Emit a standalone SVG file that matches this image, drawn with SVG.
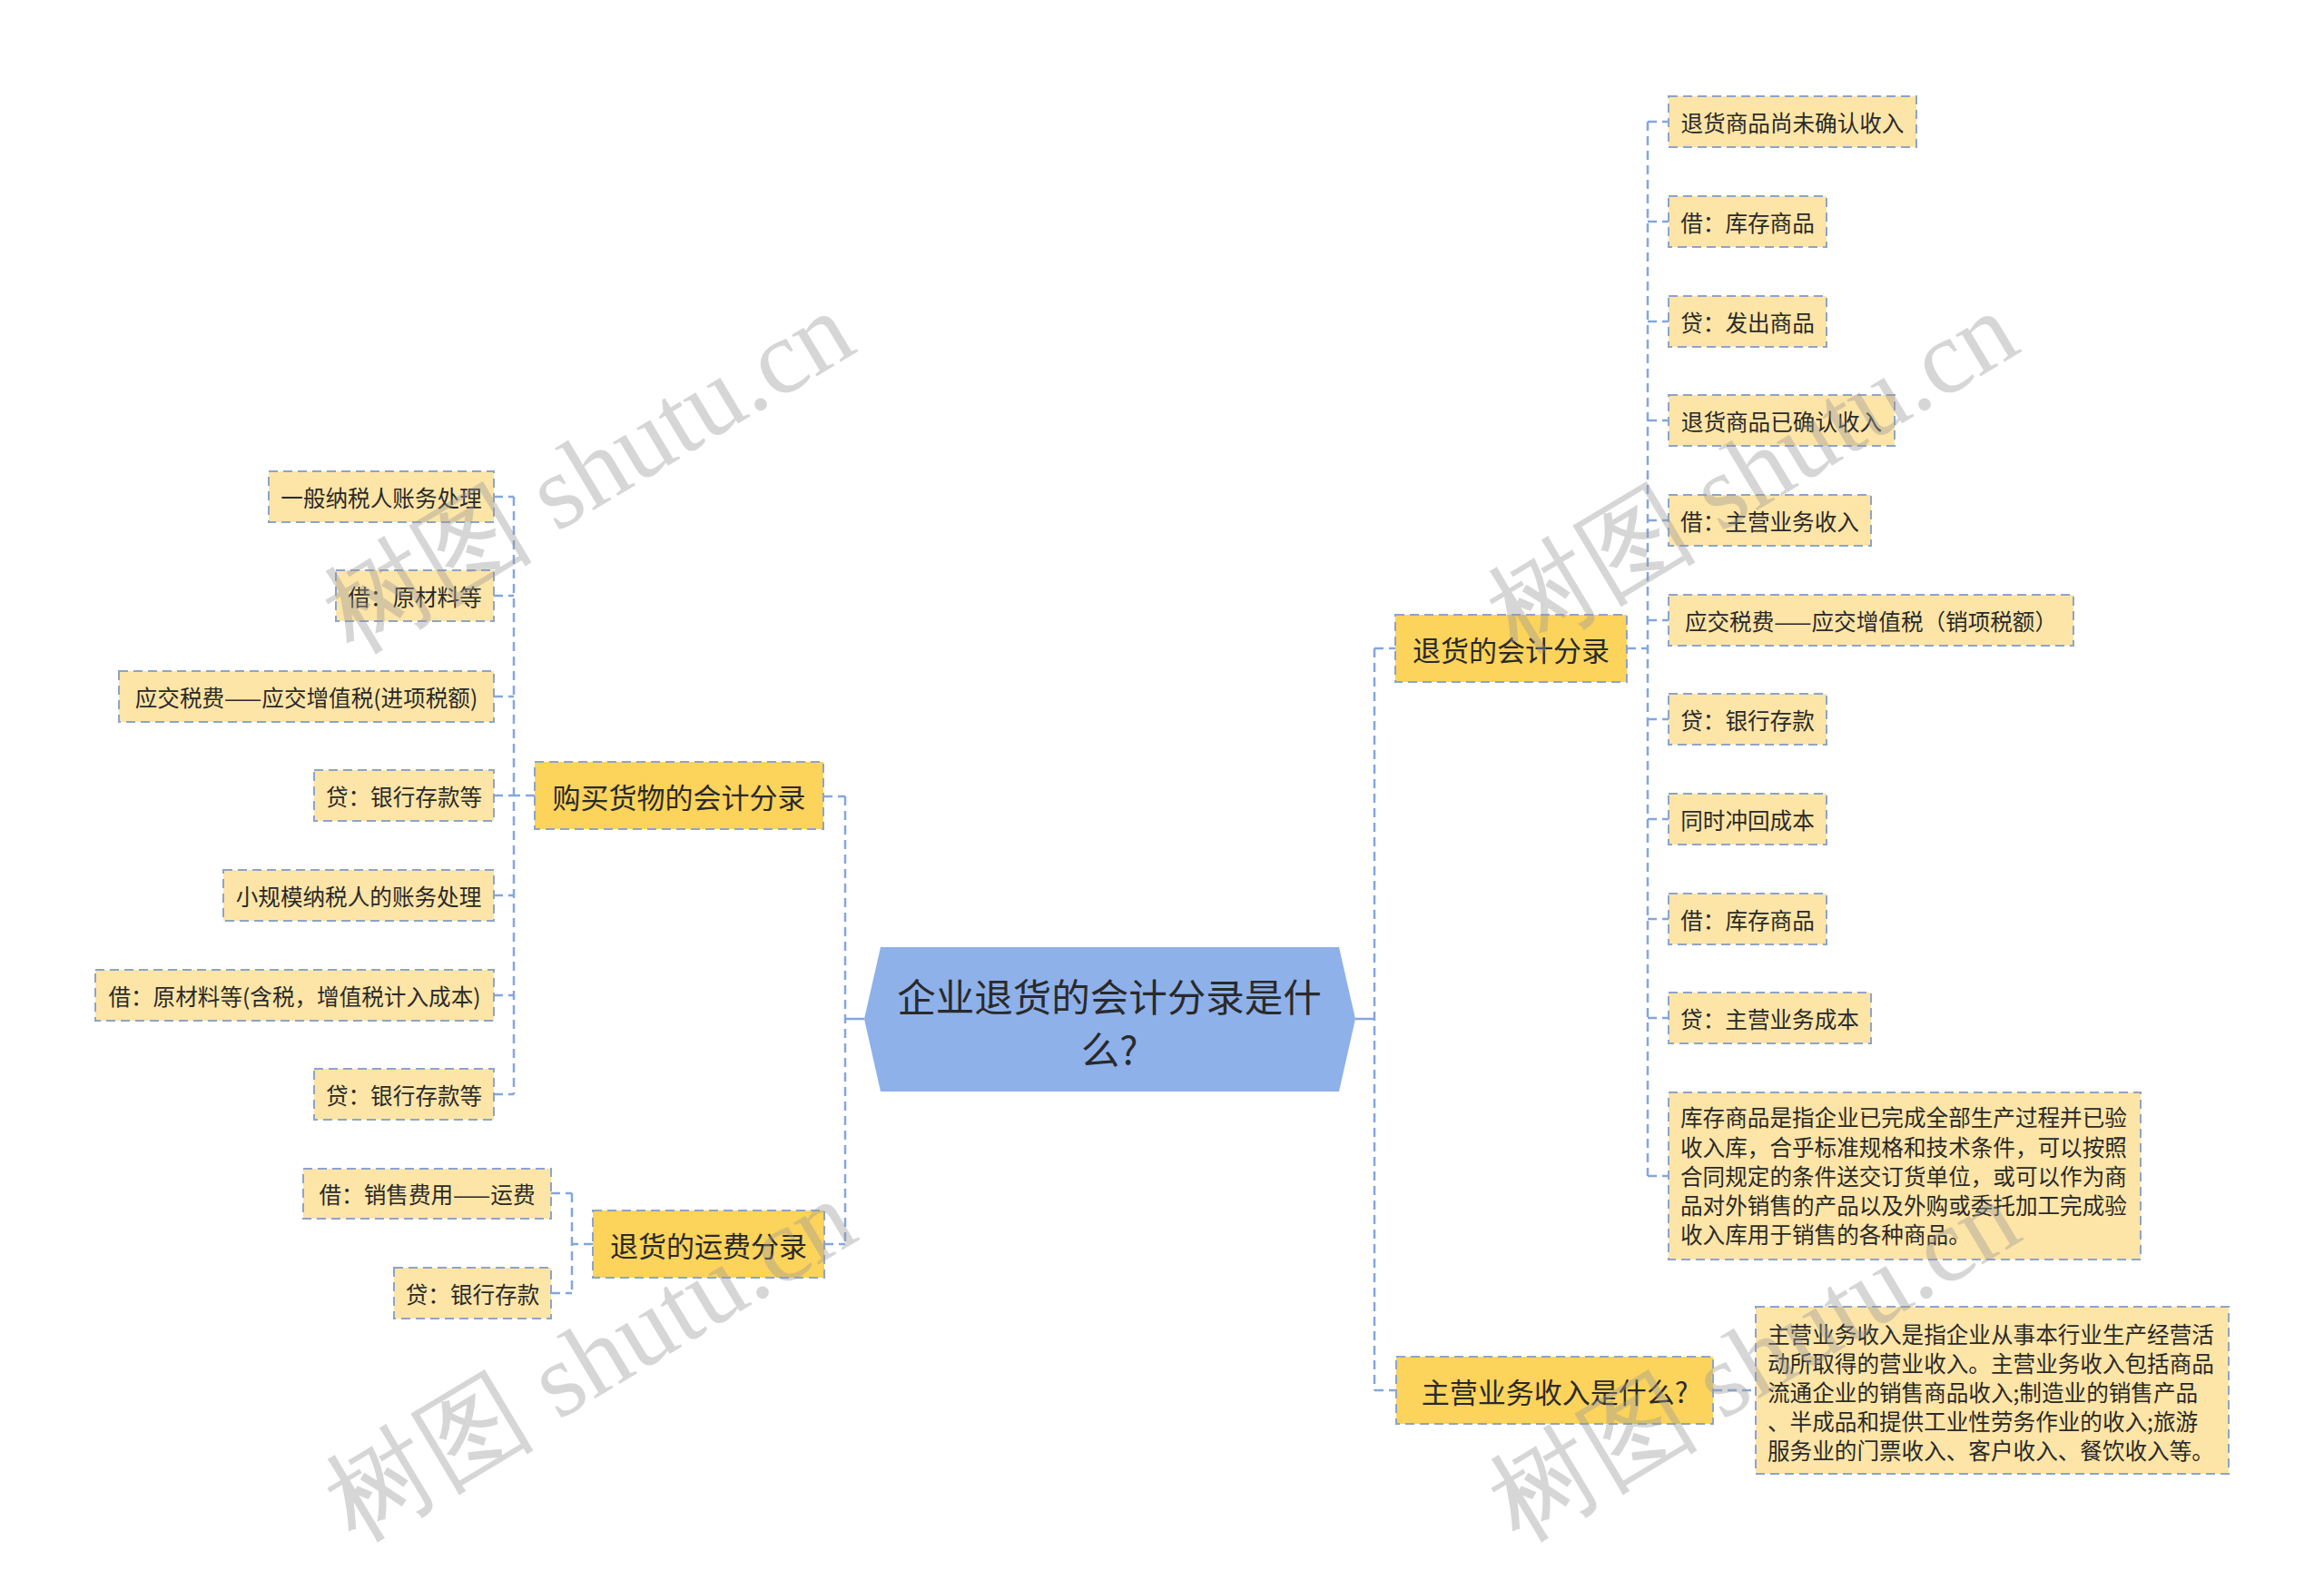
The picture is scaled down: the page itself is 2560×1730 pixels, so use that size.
<svg xmlns="http://www.w3.org/2000/svg" width="2560" height="1730" viewBox="0 0 2560 1730">
<style>
text{font-family:"Noto Sans CJK SC","Noto Sans",sans-serif;fill:#2a2a2a;text-anchor:middle;dominant-baseline:central}
.leaf{fill:#FDE5A7;stroke:#8DA4C8;stroke-width:2;stroke-dasharray:10 6}
.l1{fill:#FCD35B;stroke:#8DA4C8;stroke-width:2;stroke-dasharray:10 6}
.t24{font-size:24.6px}
.t30{font-size:31px}
.t40{font-size:42.5px}
.ml{font-size:24.6px;text-anchor:start}
.con line{stroke:#84A6DE;stroke-width:2.5;stroke-dasharray:10 6;fill:none}
.con line.solid{stroke-dasharray:none}
.wm{font-family:"Liberation Serif",serif;font-size:116px;fill:#9a9a9a;opacity:0.4;text-anchor:middle}
</style>
<rect width="2560" height="1730" fill="#ffffff"/>
<g id="connectors" class="con">
<line class="solid" x1="952" y1="1122" x2="931" y2="1122"/>
<line class="solid" x1="1493" y1="1122" x2="1514" y2="1122"/>
<line x1="931" y1="877" x2="931" y2="1370"/>
<line x1="907" y1="877" x2="931" y2="877"/>
<line x1="908" y1="1370" x2="931" y2="1370"/>
<line x1="566" y1="547" x2="566" y2="1205"/>
<line x1="589" y1="876" x2="566" y2="876"/>
<line x1="544" y1="547" x2="566" y2="547"/>
<line x1="544" y1="656" x2="566" y2="656"/>
<line x1="544" y1="767" x2="566" y2="767"/>
<line x1="544" y1="876" x2="566" y2="876"/>
<line x1="544" y1="986" x2="566" y2="986"/>
<line x1="544" y1="1096" x2="566" y2="1096"/>
<line x1="544" y1="1205" x2="566" y2="1205"/>
<line x1="630" y1="1314" x2="630" y2="1424"/>
<line x1="653" y1="1370" x2="630" y2="1370"/>
<line x1="607" y1="1314" x2="630" y2="1314"/>
<line x1="607" y1="1424" x2="630" y2="1424"/>
<line x1="1514" y1="714" x2="1514" y2="1531"/>
<line x1="1514" y1="714" x2="1537" y2="714"/>
<line x1="1514" y1="1531" x2="1538" y2="1531"/>
<line x1="1887" y1="1531" x2="1934" y2="1531"/>
<line x1="1815" y1="134" x2="1815" y2="1295"/>
<line x1="1792" y1="714" x2="1815" y2="714"/>
<line x1="1815" y1="134" x2="1838" y2="134"/>
<line x1="1815" y1="244" x2="1838" y2="244"/>
<line x1="1815" y1="354" x2="1838" y2="354"/>
<line x1="1815" y1="463" x2="1838" y2="463"/>
<line x1="1815" y1="573" x2="1838" y2="573"/>
<line x1="1815" y1="683" x2="1838" y2="683"/>
<line x1="1815" y1="792" x2="1838" y2="792"/>
<line x1="1815" y1="902" x2="1838" y2="902"/>
<line x1="1815" y1="1012" x2="1838" y2="1012"/>
<line x1="1815" y1="1121" x2="1838" y2="1121"/>
<line x1="1815" y1="1295" x2="1838" y2="1295"/>
</g>
<g id="root">
<polygon points="970,1043 1475,1043 1493,1122 1475,1202 970,1202 952,1122" fill="#8EB1EA"/>
<text class="t40" x="1222" y="1095">企业退货的会计分录是什</text>
<text class="t40" x="1222" y="1153">么?</text>
</g>
<g id="n-buy"><rect class="l1" x="589" y="839" width="318" height="74"/><text class="t30" x="748" y="876">购买货物的会计分录</text></g>
<g id="n-buy-1"><rect class="leaf" x="296" y="519" width="248" height="56"/><text class="t24" x="420" y="547">一般纳税人账务处理</text></g>
<g id="n-buy-2"><rect class="leaf" x="370" y="628" width="174" height="56"/><text class="t24" x="457" y="656">借：原材料等</text></g>
<g id="n-buy-3"><rect class="leaf" x="131" y="739" width="413" height="56"/><text class="t24" x="337.5" y="767">应交税费——应交增值税(进项税额)</text></g>
<g id="n-buy-4"><rect class="leaf" x="346" y="848" width="198" height="56"/><text class="t24" x="445" y="876">贷：银行存款等</text></g>
<g id="n-buy-5"><rect class="leaf" x="246" y="958" width="298" height="56"/><text class="t24" x="395" y="986">小规模纳税人的账务处理</text></g>
<g id="n-buy-6"><rect class="leaf" x="105" y="1068" width="439" height="56"/><text class="t24" x="324.5" y="1096">借：原材料等(含税，增值税计入成本)</text></g>
<g id="n-buy-7"><rect class="leaf" x="346" y="1177" width="198" height="56"/><text class="t24" x="445" y="1205">贷：银行存款等</text></g>
<g id="n-freight"><rect class="l1" x="653" y="1333" width="255" height="74"/><text class="t30" x="780.5" y="1370">退货的运费分录</text></g>
<g id="n-freight-1"><rect class="leaf" x="334" y="1287" width="273" height="55"/><text class="t24" x="470.5" y="1314">借：销售费用——运费</text></g>
<g id="n-freight-2"><rect class="leaf" x="434" y="1396" width="173" height="56"/><text class="t24" x="520.5" y="1424">贷：银行存款</text></g>
<g id="n-return"><rect class="l1" x="1537" y="677" width="255" height="74"/><text class="t30" x="1664.5" y="714">退货的会计分录</text></g>
<g id="n-r1"><rect class="leaf" x="1838" y="106" width="273" height="56"/><text class="t24" x="1974.5" y="134">退货商品尚未确认收入</text></g>
<g id="n-r2"><rect class="leaf" x="1838" y="216" width="174" height="56"/><text class="t24" x="1925" y="244">借：库存商品</text></g>
<g id="n-r3"><rect class="leaf" x="1838" y="326" width="174" height="56"/><text class="t24" x="1925" y="354">贷：发出商品</text></g>
<g id="n-r4"><rect class="leaf" x="1838" y="435" width="249" height="56"/><text class="t24" x="1962.5" y="463">退货商品已确认收入</text></g>
<g id="n-r5"><rect class="leaf" x="1838" y="545" width="223" height="56"/><text class="t24" x="1949.5" y="573">借：主营业务收入</text></g>
<g id="n-r6"><rect class="leaf" x="1838" y="655" width="446" height="56"/><text class="t24" x="2061" y="683">应交税费——应交增值税（销项税额）</text></g>
<g id="n-r7"><rect class="leaf" x="1838" y="764" width="174" height="56"/><text class="t24" x="1925" y="792">贷：银行存款</text></g>
<g id="n-r8"><rect class="leaf" x="1838" y="874" width="174" height="56"/><text class="t24" x="1925" y="902">同时冲回成本</text></g>
<g id="n-r9"><rect class="leaf" x="1838" y="984" width="174" height="56"/><text class="t24" x="1925" y="1012">借：库存商品</text></g>
<g id="n-r10"><rect class="leaf" x="1838" y="1093" width="223" height="56"/><text class="t24" x="1949.5" y="1121">贷：主营业务成本</text></g>
<g id="n-r11"><rect class="leaf" x="1838" y="1203" width="520" height="184"/>
<text class="ml" x="1851" y="1229">库存商品是指企业已完成全部生产过程并已验</text>
<text class="ml" x="1851" y="1262">收入库，合乎标准规格和技术条件，可以按照</text>
<text class="ml" x="1851" y="1294">合同规定的条件送交订货单位，或可以作为商</text>
<text class="ml" x="1851" y="1326">品对外销售的产品以及外购或委托加工完成验</text>
<text class="ml" x="1851" y="1358">收入库用于销售的各种商品。</text>
</g>
<g id="n-income"><rect class="l1" x="1538" y="1494" width="349" height="74"/><text class="t30" x="1712.5" y="1531">主营业务收入是什么?</text></g>
<g id="n-income-1"><rect class="leaf" x="1934" y="1439" width="521" height="184"/>
<text class="ml" x="1947" y="1468">主营业务收入是指企业从事本行业生产经营活</text>
<text class="ml" x="1947" y="1500">动所取得的营业收入。主营业务收入包括商品</text>
<text class="ml" x="1947" y="1532">流通企业的销售商品收入;制造业的销售产品</text>
<text class="ml" x="1947" y="1564">、半成品和提供工业性劳务作业的收入;旅游</text>
<text class="ml" x="1947" y="1596">服务业的门票收入、客户收入、餐饮收入等。</text>
</g>
<g id="watermarks">
<text class="wm" transform="translate(648,520) rotate(-31)">树图 shutu.cn</text>
<text class="wm" transform="translate(650,1498) rotate(-31)">树图 shutu.cn</text>
<text class="wm" transform="translate(1930,520) rotate(-31)">树图 shutu.cn</text>
<text class="wm" transform="translate(1932,1498) rotate(-31)">树图 shutu.cn</text>
</g>
</svg>
